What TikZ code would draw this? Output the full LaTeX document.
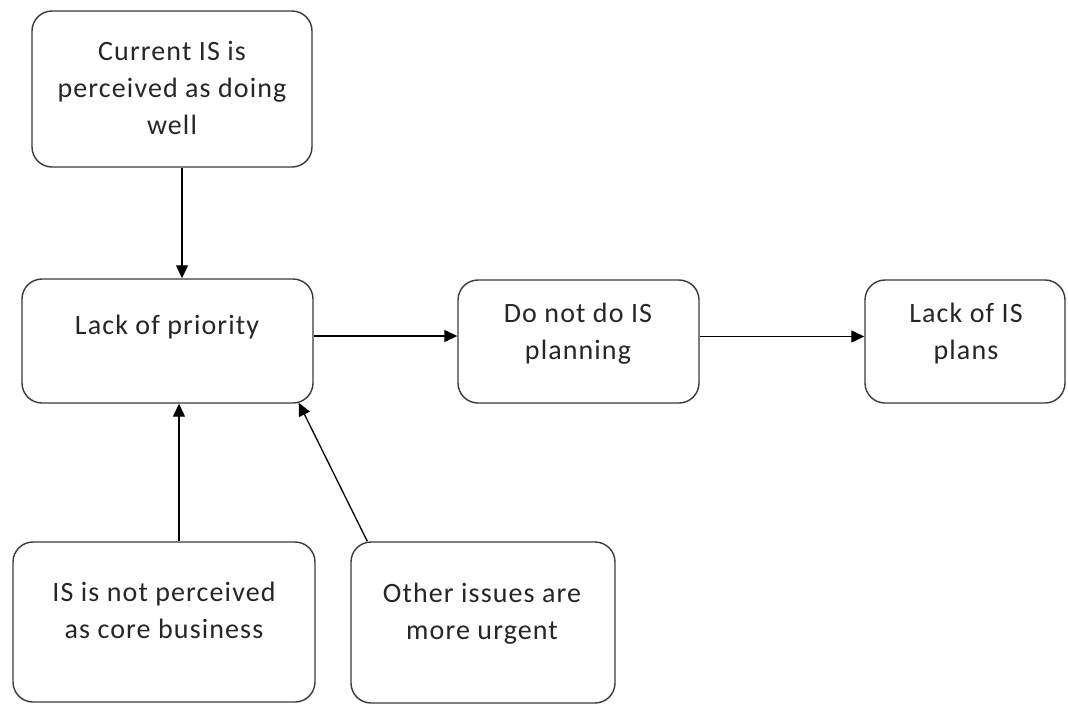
\documentclass[tikz,border=0pt]{standalone}
\usepackage{fontspec}
\setmainfont{Carlito}[LetterSpace=4]
\usetikzlibrary{arrows.meta}
\definecolor{boxgray}{HTML}{3A3A3A}
\begin{document}
\begin{tikzpicture}[x=1pt,y=-1pt,
  box/.style={draw=boxgray, line width=1.4pt, rounded corners=20pt, fill=white, inner sep=0pt},
  lbl/.style={align=center, font=\fontsize{28}{37}\selectfont, inner sep=0pt, text=black!85},
  link/.style={draw=black, line width=1.3pt, -{Triangle[length=13pt,width=12pt]}}]

\useasboundingbox (0,0) rectangle (1068,705);

% boxes
\node[box, minimum width=280pt, minimum height=156pt] (b1) at (172,89) {};
\node[box, minimum width=291pt, minimum height=124pt] (b2) at (167.5,341) {};
\node[box, minimum width=241pt, minimum height=123pt] (b3) at (578.5,341.5) {};
\node[box, minimum width=200pt, minimum height=123pt] (b4) at (965,341.5) {};
\node[box, minimum width=302pt, minimum height=160pt] (b5) at (164,622) {};
\node[box, minimum width=264pt, minimum height=161pt] (b6) at (483,622.5) {};

% labels
\node[lbl] (t1) at (172,88) {Current IS is\\perceived as doing\\well};
\node[lbl] (t2) at (167,327) {Lack of priority};
\node[lbl] (t3) at (578,334) {Do not do IS\\planning};
\node[lbl] (t4) at (966,334) {Lack of IS\\plans};
\node[lbl] (t5) at (164,610) {IS is not perceived\\as core business};
\node[lbl] (t6) at (482,614) {Other issues are\\more urgent};

% connectors
\draw[link] ([xshift=10pt]b1.south) -- ([xshift=10pt]b1.south |- b2.north);
\draw[link] ([xshift=15pt]b5.north) -- ([xshift=15pt]b5.north |- b2.south);
\draw[link] ([xshift=17pt]b6.north west) -- ([xshift=-15pt,yshift=1pt]b2.south east);
\draw[link] ([yshift=5pt]b2.east) -- ([yshift=5pt]b2.east -| b3.west);
\draw[link] ([yshift=5pt]b3.east) -- ([yshift=5pt]b3.east -| b4.west);
\end{tikzpicture}
\end{document}
